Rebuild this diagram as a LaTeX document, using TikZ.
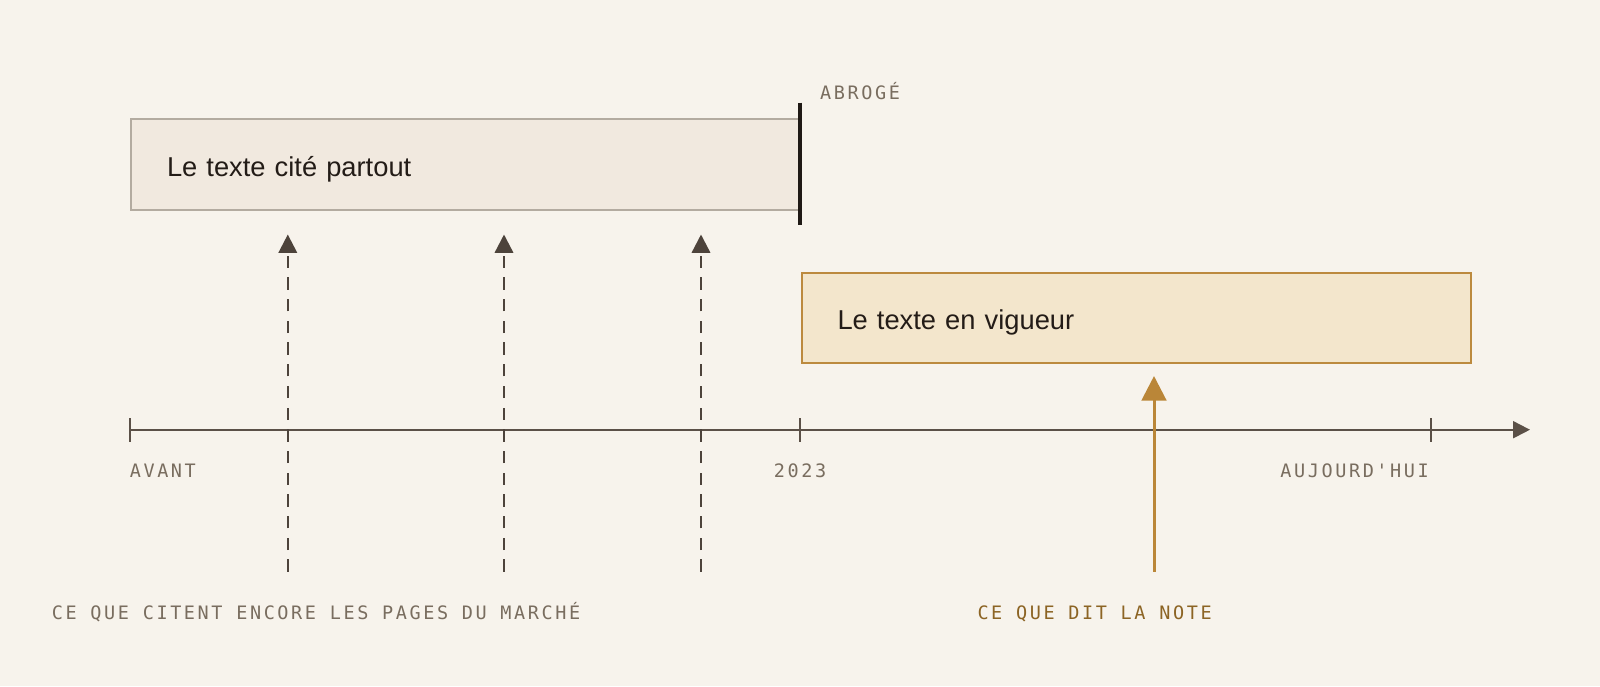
\documentclass[tikz,border=0pt]{standalone}
\usepackage{fontspec}
\setmainfont{Liberation Sans}
\newfontfamily\monof[LetterSpace=14]{DejaVu Sans Mono}
\usetikzlibrary{arrows.meta}
\definecolor{bgc}{HTML}{F7F3EC}
\definecolor{oldfill}{HTML}{F1E9DF}
\definecolor{olddraw}{HTML}{B3ABA0}
\definecolor{newfill}{HTML}{F3E6CC}
\definecolor{newdraw}{HTML}{BC8A3E}
\definecolor{barc}{HTML}{1F1915}
\definecolor{axisc}{HTML}{5B5047}
\definecolor{dashc}{HTML}{4D433B}
\definecolor{labc}{HTML}{796D5F}
\definecolor{orc}{HTML}{BA8638}
\definecolor{notec}{HTML}{8C6424}
\definecolor{txtc}{HTML}{231C17}
\tikzset{
  period/.style={line width=2pt, text width=597pt, inner xsep=36pt, inner ysep=0pt,
    minimum height=90.5pt, anchor=north west, align=left, text=txtc,
    text height=27pt, text depth=3pt,
    font=\fontsize{27.3}{32}\selectfont},
  oldbox/.style={period, fill=oldfill, draw=olddraw},
  newbox/.style={period, fill=newfill, draw=newdraw},
  monolab/.style={inner sep=0pt, text=labc, font=\monof\fontsize{18.5}{22}\selectfont},
  axisline/.style={draw=axisc, line width=2pt},
  tickline/.style={draw=axisc, line width=2pt},
  dasharrow/.style={draw=dashc, line width=2.4pt, dash pattern=on 12.3pt off 9.4pt,
    -{Triangle[length=18.3pt,width=18.3pt]}},
  notearrow/.style={draw=orc, line width=3pt, -{Triangle[length=24.5pt,width=24.5pt]}},
}
\begin{document}
\begin{tikzpicture}[x=1pt,y=-1pt]
\fill[bgc] (0,0) rectangle (1600,686);
\useasboundingbox (0,0) rectangle (1600,686);

% boxes
\node[oldbox] (old) at (130,118.3) {Le texte cité partout};
\node[newbox] (new) at (800.5,271.7) {Le texte en vigueur};

% abrogation bar
\coordinate (abtop) at (800,102.5);
\coordinate (abbot) at (800,224.5);
\draw[barc, line width=4.5pt] (abtop) -- (abbot);
\node[monolab, anchor=base west] (abro) at (820,99) {ABROGÉ};

% axis
\coordinate (axs) at (129.6,429.7);
\coordinate (axe) at (1530,429.7);
\coordinate (t2023) at (800,429.7);
\coordinate (tnow) at (1430.7,429.7);
\draw[axisline, -{Triangle[length=17pt,width=17pt]}] (axs) -- (axe);
\foreach \t in {axs,t2023,tnow}
  \draw[tickline] ([yshift=-12pt]\t) -- ([yshift=11.5pt]\t);

\node[monolab, anchor=base west] (lavant) at (129.6,477) {AVANT};
\node[monolab, anchor=base] (l2023) at (800,477) {2023};
\node[monolab, anchor=base east] (lnow) at (1429,477) {AUJOURD'HUI};

% dashed arrows (market pages)
\coordinate (d1b) at (287.8,571.7); \coordinate (d1t) at (287.8,234.5);
\coordinate (d2b) at (504,571.7);   \coordinate (d2t) at (504,234.5);
\coordinate (d3b) at (701,571.7);   \coordinate (d3t) at (701,234.5);
\draw[dasharrow] (d1b) -- (d1t);
\draw[dasharrow] (d2b) -- (d2t);
\draw[dasharrow] (d3b) -- (d3t);

% note arrow
\coordinate (nb) at (1154,571.7);
\coordinate (nt) at (1154,376);
\draw[notearrow] (nb) -- (nt);

% bottom labels
\node[monolab, anchor=base west] (lmarket) at (51.7,619) {CE QUE CITENT ENCORE LES PAGES DU MARCHÉ};
\node[monolab, anchor=base west, text=notec] (lnote) at (977.3,619) {CE QUE DIT LA NOTE};
\end{tikzpicture}
\end{document}
